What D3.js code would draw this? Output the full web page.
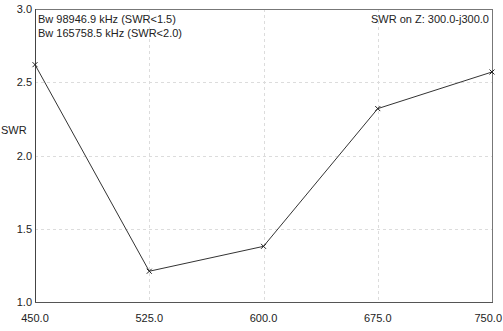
<!DOCTYPE html>
<html><head><meta charset="utf-8">
<script src="https://cdn.jsdelivr.net/npm/d3@7"></script>
<style>body{margin:0;background:#fff}svg{display:block}text{font-family:"Liberation Sans",Arial,sans-serif;font-size:11px;fill:#222}</style>
</head><body><svg id="c" width="503" height="331"></svg>
<script>
const freqs = [450, 525, 600, 675, 750];
const swr = [2.62, 1.21, 1.38, 2.32, 2.57];
const xTicks = [450, 525, 600, 675, 750];
const yTicks = [1.0, 1.5, 2.0, 2.5, 3.0];
const infoLines = ["Bw 98946.9 kHz (SWR<1.5)", "Bw 165758.5 kHz (SWR<2.0)"];
const titleRight = "SWR on Z: 300.0-j300.0";
const yLabel = "SWR";

const svg = d3.select("#c");
const L = 35, R = 492, T = 9, B = 302;
const x = d3.scaleLinear().domain([450, 750]).range([L, R]);
const y = d3.scaleLinear().domain([1, 3]).range([B, T]);

// grid
svg.append("g").selectAll("line").data(xTicks.slice(1, -1)).join("line")
  .attr("x1", d => Math.round(x(d)) + 0.5).attr("x2", d => Math.round(x(d)) + 0.5).attr("y1", T).attr("y2", B)
  .attr("stroke", "#dcdcdc").attr("stroke-dasharray", "3,3");
svg.append("g").selectAll("line").data(yTicks.slice(1, -1)).join("line")
  .attr("y1", d => Math.round(y(d)) + 0.5).attr("y2", d => Math.round(y(d)) + 0.5).attr("x1", L).attr("x2", R)
  .attr("stroke", "#dcdcdc").attr("stroke-dasharray", "3,3");

// frame
svg.append("rect").attr("x", L + 0.5).attr("y", T + 0.5).attr("width", R - L).attr("height", B - T)
  .attr("fill", "none").attr("stroke", "#777");
svg.append("line").attr("x1", L + 0.5).attr("x2", L + 0.5).attr("y1", T).attr("y2", B + 1).attr("stroke", "#444");
svg.append("line").attr("x1", L).attr("x2", R + 1).attr("y1", B + 0.5).attr("y2", B + 0.5).attr("stroke", "#555");

// tick labels
svg.append("g").selectAll("text").data(xTicks).join("text")
  .attr("x", (d, i) => i === xTicks.length - 1 ? 502 : x(d))
  .attr("y", B + 20)
  .attr("text-anchor", (d, i) => i === xTicks.length - 1 ? "end" : "middle")
  .text(d => d.toFixed(1));
svg.append("g").selectAll("text").data(yTicks).join("text")
  .attr("x", L - 3).attr("y", d => y(d) + 4).attr("text-anchor", "end")
  .text(d => d.toFixed(1));
svg.append("text").attr("x", 1).attr("y", 134).text(yLabel);

// info text
svg.append("g").selectAll("text").data(infoLines).join("text")
  .attr("x", L + 3).attr("y", (d, i) => T + 14 + i * 14).text(d => d);
svg.append("text").attr("x", R - 3).attr("y", T + 14).attr("text-anchor", "end").text(titleRight);

// line
const pts = freqs.map((f, i) => [f, swr[i]]);
svg.append("path").datum(pts)
  .attr("d", d3.line().x(d => x(d[0])).y(d => y(d[1])))
  .attr("fill", "none").attr("stroke", "#333").attr("stroke-width", 1);
// markers
const s = 2.5;
svg.append("g").selectAll("path").data(pts).join("path")
  .attr("d", d => { const cx = x(d[0]), cy = y(d[1]); return `M${cx-s},${cy-s}L${cx+s},${cy+s}M${cx-s},${cy+s}L${cx+s},${cy-s}`; })
  .attr("stroke", "#222").attr("stroke-width", 1);
</script></body></html>
